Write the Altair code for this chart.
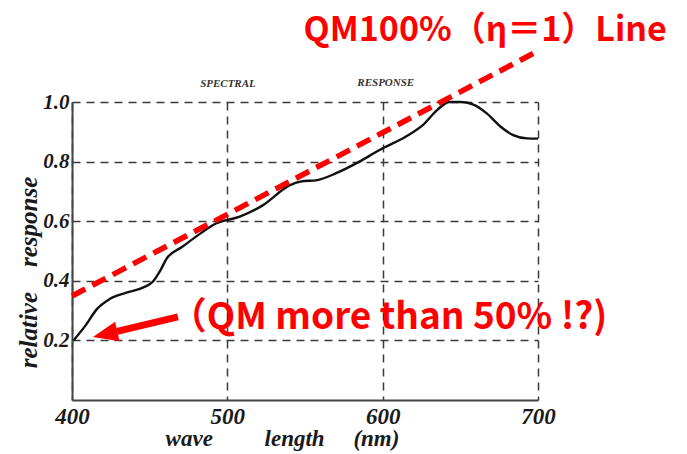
import altair as alt
import pandas as pd

# measured spectral response curve
wavelength = [401, 409, 416, 424, 435, 446, 452, 457, 461, 471, 483, 493, 508, 523,
              540, 547, 558, 570, 585, 598, 615, 626, 635, 643, 650, 658, 667, 676,
              684, 693, 700]
response = [0.200, 0.252, 0.305, 0.338, 0.360, 0.378, 0.397, 0.436, 0.475, 0.514,
            0.560, 0.593, 0.615, 0.654, 0.720, 0.733, 0.738, 0.761, 0.800, 0.839,
            0.884, 0.923, 0.973, 1.000, 1.000, 0.992, 0.962, 0.917, 0.889, 0.878,
            0.877]

# QM100% line (two end points)
qm_x = [400, 701]
qm_y = [0.349, 1.174]

# arrow (tail -> head base, and tip)
arrow_x = [468.2, 429.0]
arrow_y = [0.279, 0.230]
arrow_tip = [413.5, 0.211]

x_ticks = [400, 500, 600, 700]
y_ticks = [0.2, 0.4, 0.6, 0.8, 1.0]

top_label = ["QM100%（η＝1）Line"]
top_pos = [666.0, 1.238]
note_label = ["（QM more than 50% !?)"]
note_pos = [463.0, 0.276]
header_labels = ["SPECTRAL", "RESPONSE"]
header_x = [500.4, 602.0]
header_y = [1.06, 1.064]

nb = "\u00a0"
serif = "Liberation Serif"
red = "#ff0000"

xs = alt.Scale(domain=[400, 700], nice=False, zero=False)
ys = alt.Scale(domain=[0, 1], nice=False, zero=False)

x_title = "wave" + nb * 9 + "length" + nb * 5 + "(nm)"
y_title = "relative" + nb * 4 + "response"

x_axis = alt.Axis(values=x_ticks, format="d", title=x_title)
y_axis = alt.Axis(values=y_ticks, format=".1f", title=y_title)


def X(field):
    return alt.X(field, scale=xs, axis=x_axis)


def Y(field):
    return alt.Y(field, scale=ys, axis=y_axis)


curve_df = pd.DataFrame({"wl": wavelength, "v": response})
curve = alt.Chart(curve_df).mark_line(
    color="#111111", strokeWidth=2.4, interpolate="monotone"
).encode(x=X("wl:Q"), y=Y("v:Q"))

qm_df = pd.DataFrame({"wl": qm_x, "v": qm_y})
qm_line = alt.Chart(qm_df).mark_line(
    color=red, strokeWidth=5.5, strokeDash=[15, 8]
).encode(x=X("wl:Q"), y=Y("v:Q"))

shaft_df = pd.DataFrame({"x1": [arrow_x[0]], "x2": [arrow_x[1]],
                         "y1": [arrow_y[0]], "y2": [arrow_y[1]]})
shaft = alt.Chart(shaft_df).mark_rule(color=red, strokeWidth=7).encode(
    x=X("x1:Q"), x2="x2:Q", y=Y("y1:Q"), y2="y2:Q",
)

head_df = pd.DataFrame({"wl": [arrow_tip[0]], "v": [arrow_tip[1]]})
head = alt.Chart(head_df).mark_point(
    shape="M0,0L2,-0.8L2,0.8Z", size=625, filled=True, color=red, opacity=1,
    angle=347, strokeWidth=0,
).encode(x=X("wl:Q"), y=Y("v:Q"))

top_df = pd.DataFrame({"t": top_label, "wl": [top_pos[0]], "v": [top_pos[1]]})
top_text = alt.Chart(top_df).mark_text(
    font="Noto Sans CJK JP", fontSize=34, fontWeight="bold", color=red,
    align="center", baseline="middle",
).encode(x=X("wl:Q"), y=Y("v:Q"), text="t:N")

note_df = pd.DataFrame({"t": note_label, "wl": [note_pos[0]], "v": [note_pos[1]]})
note_text = alt.Chart(note_df).mark_text(
    font="Noto Sans CJK JP", fontSize=37, fontWeight="bold", color=red,
    align="left", baseline="middle",
).encode(x=X("wl:Q"), y=Y("v:Q"), text="t:N")

header_df = pd.DataFrame({"t": header_labels, "wl": header_x, "v": header_y})
header_text = alt.Chart(header_df).mark_text(
    font=serif, fontSize=11, fontWeight="bold", fontStyle="italic", color="#333333",
    align="center", baseline="middle",
).encode(x=X("wl:Q"), y=Y("v:Q"), text="t:N")

chart = alt.layer(
    curve, qm_line, shaft, head, top_text, note_text, header_text
).properties(
    width=466,
    height=298,
    autosize=alt.AutoSizeParams(type="none"),
    padding={"left": 64, "top": 94, "right": 141, "bottom": 52},
    background="white",
).configure_view(
    strokeWidth=0
).configure_axis(
    grid=True, gridDash=[8, 6], gridColor="#3a3a3a", gridWidth=1.5,
    domainColor="#444444", domainWidth=2, ticks=False,
    labelFont=serif, labelFontStyle="italic", labelFontWeight="bold",
    labelColor="#1a1a1a", labelFlush=False,
    titleFont=serif, titleFontStyle="italic", titleFontWeight="bold",
    titleColor="#1a1a1a", titleAlign="center", titleBaseline="middle",
).configure_axisX(
    labelFontSize=23, labelPadding=5, titleFontSize=23, titleX=210, titleY=38,
).configure_axisY(
    labelFontSize=21, labelPadding=3, titleFontSize=25, titleAngle=270,
    titleX=-44, titleY=170,
)

chart.save("out.html", embed_options={"renderer": "svg", "actions": False})
